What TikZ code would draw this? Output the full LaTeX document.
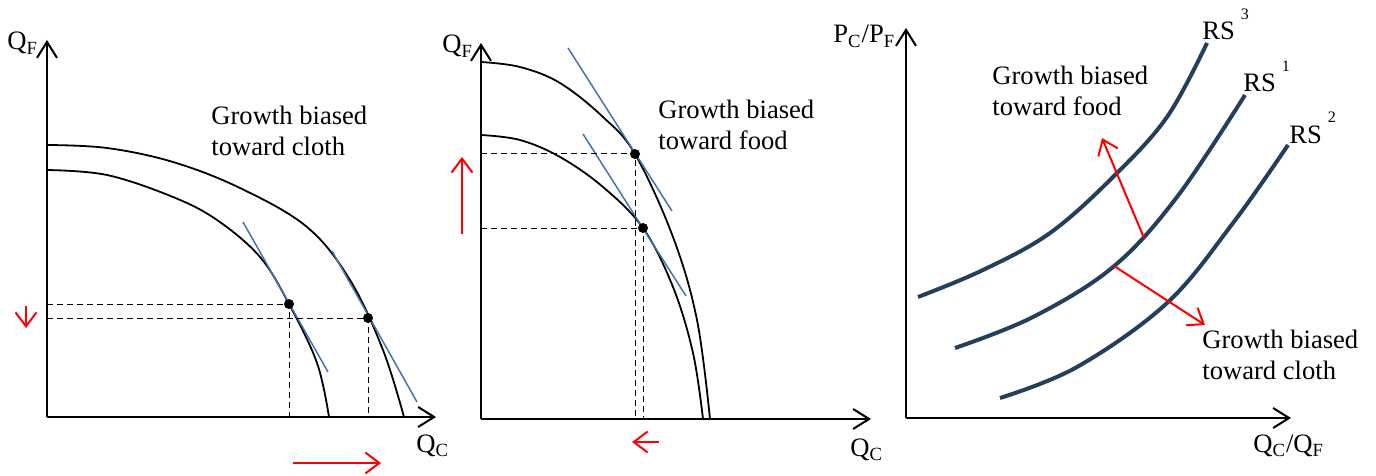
\documentclass[tikz,border=0pt]{standalone}
\usepackage{fontspec}
\setmainfont{Liberation Serif}
\usetikzlibrary{arrows.meta}
\definecolor{rsblue}{RGB}{36,62,94}
\definecolor{tanblue}{RGB}{68,114,180}
\begin{document}
\begin{tikzpicture}[x=0.5pt,y=-0.5pt,
  axis/.style={line width=1pt,-{Straight Barb[length=8pt,width=10pt,line width=1pt]}},
  ppf/.style={line width=0.9pt},
  tang/.style={tanblue,line width=0.75pt},
  guide/.style={line width=0.5pt,dash pattern=on 3pt off 2pt},
  redarrow/.style={red,line width=1pt,-{Straight Barb[length=7pt,width=10.5pt,line width=1pt]}},
  rs/.style={rsblue,line width=2pt},
  dot/.style={circle,fill=black,inner sep=0pt,minimum size=5pt},
  lbl/.style={font=\fontsize{13.3}{15.5}\selectfont,inner sep=0pt},
  txt/.style={font=\fontsize{13.3}{15.5}\selectfont,inner sep=0pt,align=left,anchor=north west}]
\useasboundingbox (0,0) rectangle (1376,476);

% ---------- Panel 1 ----------
\coordinate (o1) at (47,417);
\coordinate (y1) at (47,40);
\coordinate (x1) at (436,417);
\draw[axis] (o1) -- (y1);
\draw[axis] (o1) -- (x1);
\node[lbl,anchor=base west] (qf1) at (7,50) {Q\textsubscript{F}};
\node[lbl,anchor=base west] (qc1) at (416,452) {Q\textsubscript{C}};
\draw[ppf] plot[smooth,tension=0.6] coordinates {(47,145) (107,148) (173,162) (240,188) (307,227) (350,280) (383,350) (404,417)};
\draw[ppf] plot[smooth,tension=0.6] coordinates {(47,170) (107,175) (173,197) (217,220) (260,257) (289,304) (317,363) (329,417)};
\coordinate (t1a) at (243,222); \coordinate (t1b) at (328,372);
\coordinate (t2a) at (332,251); \coordinate (t2b) at (417,402);
\draw[tang] (t1a) -- (t1b);
\draw[tang] (t2a) -- (t2b);
\node[dot] (p1) at (289,304) {};
\node[dot] (p2) at (368,318) {};
\coordinate (p1y) at (47,304); \coordinate (p1x) at (289,417);
\coordinate (p2y) at (47,318); \coordinate (p2x) at (368,417);
\draw[guide] (p1y) -- (p1.center) -- (p1x);
\draw[guide] (p2y) -- (p2.center) -- (p2x);
\coordinate (d1a) at (26,306); \coordinate (d1b) at (26,328);
\draw[redarrow] (d1a) -- (d1b);
\coordinate (r1a) at (293,463); \coordinate (r1b) at (381,463);
\draw[redarrow] (r1a) -- (r1b);
\node[txt] (g1) at (211,106) {Growth biased\\toward cloth};

% ---------- Panel 2 ----------
\coordinate (o2) at (481,419);
\coordinate (y2) at (481,43);
\coordinate (x2) at (871,419);
\draw[axis] (o2) -- (y2);
\draw[axis] (o2) -- (x2);
\node[lbl,anchor=base west] (qf2) at (442,53) {Q\textsubscript{F}};
\node[lbl,anchor=base west] (qc2) at (850,456) {Q\textsubscript{C}};
\draw[ppf] plot[smooth,tension=0.6] coordinates {(481,62) (520,67) (560,83) (603,117) (635,154) (673,237) (697,320) (710,419)};
\draw[ppf] plot[smooth,tension=0.6] coordinates {(481,135) (520,140) (560,157) (603,187) (643,228) (673,287) (693,353) (703,419)};
\coordinate (t3a) at (568,48); \coordinate (t3b) at (672,211);
\coordinate (t4a) at (583,134); \coordinate (t4b) at (686,296);
\draw[tang] (t3a) -- (t3b);
\draw[tang] (t4a) -- (t4b);
\node[dot] (p3) at (635,154) {};
\node[dot] (p4) at (643,228) {};
\coordinate (p3y) at (481,154); \coordinate (p3x) at (635,419);
\coordinate (p4y) at (481,228); \coordinate (p4x) at (643,419);
\draw[guide] (p3y) -- (p3.center) -- (p3x);
\draw[guide] (p4y) -- (p4.center) -- (p4x);
\coordinate (u2a) at (462,234); \coordinate (u2b) at (462,157);
\draw[redarrow] (u2a) -- (u2b);
\coordinate (l2a) at (659,442); \coordinate (l2b) at (632,442);
\draw[redarrow] (l2a) -- (l2b);
\node[txt] (g2) at (658,100) {Growth biased\\toward food};

% ---------- Panel 3 ----------
\coordinate (o3) at (906,418);
\coordinate (y3) at (906,28);
\coordinate (x3) at (1291,418);
\draw[axis] (o3) -- (y3);
\draw[axis] (o3) -- (x3);
\node[lbl,anchor=base west] (pp) at (833,43) {P\textsubscript{C}/P\textsubscript{F}};
\node[lbl,anchor=base west] (qq) at (1253,452) {Q\textsubscript{C}/Q\textsubscript{F}};
\draw[rs] plot[smooth,tension=0.6] coordinates {(918,297) (983,270) (1050,233) (1113,177) (1167,117) (1207,43)};
\draw[rs] plot[smooth,tension=0.6] coordinates {(955,348) (1033,317) (1113,267) (1177,197) (1245,95)};
\draw[rs] plot[smooth,tension=0.6] coordinates {(1000,398) (1077,367) (1167,303) (1233,223) (1288,145)};
\node[lbl,anchor=base west] (rs3) at (1202,40) {RS\hspace{3pt}\raisebox{10pt}{\fontsize{8}{8}\selectfont 3}};
\node[lbl,anchor=base west] (rs1) at (1243,92) {RS\hspace{3pt}\raisebox{10pt}{\fontsize{8}{8}\selectfont 1}};
\node[lbl,anchor=base west] (rs2) at (1289,143) {RS\hspace{3pt}\raisebox{10pt}{\fontsize{8}{8}\selectfont 2}};
\coordinate (fa) at (1144,238); \coordinate (fb) at (1102,138);
\draw[redarrow] (fa) -- (fb);
\coordinate (ca) at (1114,266); \coordinate (cb) at (1205,325);
\draw[redarrow] (ca) -- (cb);
\node[txt] (g3) at (992,66) {Growth biased\\toward food};
\node[txt] (g4) at (1202,330) {Growth biased\\toward cloth};
\end{tikzpicture}
\end{document}
